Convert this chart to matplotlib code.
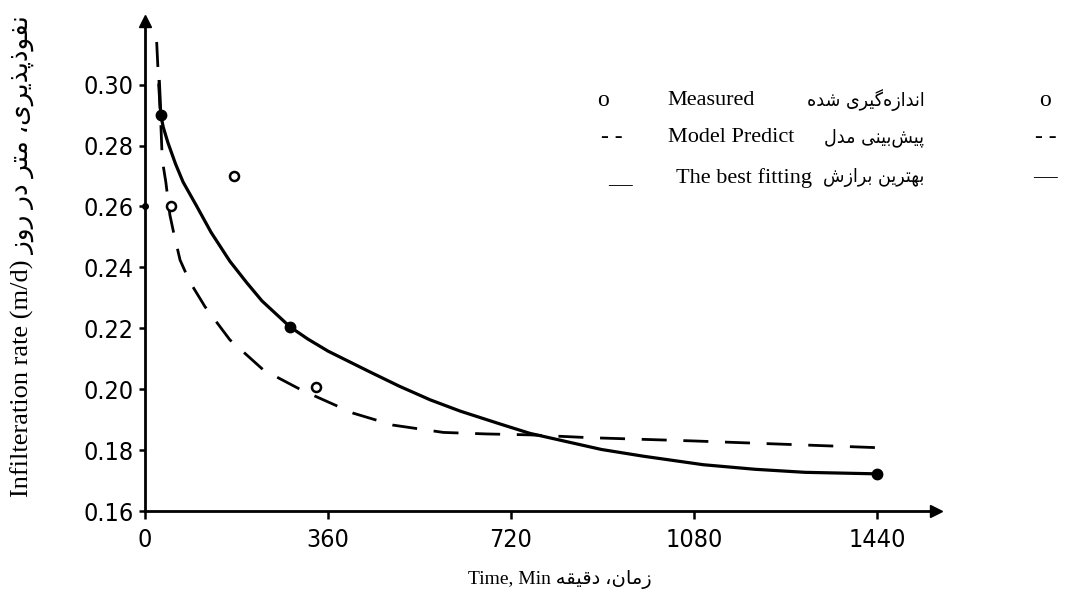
import matplotlib
matplotlib.use("Agg")
import matplotlib.pyplot as plt

# ---------------- data ----------------
best_fit_t = [28, 31, 36, 45, 60, 75, 102, 130, 167, 200, 230, 285, 320, 360, 442, 500, 561, 620,
              698, 757, 898, 980, 1098, 1200, 1298, 1440]
best_fit_y = [0.301, 0.290, 0.286, 0.281, 0.274, 0.268, 0.260, 0.2515, 0.242, 0.235, 0.229, 0.2205,
              0.2165, 0.2125, 0.2057, 0.201, 0.1965, 0.1928, 0.1886, 0.1855, 0.1802, 0.178, 0.1752,
              0.1737, 0.1727, 0.1722]

model_t = [23, 27, 31, 34, 41, 49, 56, 69, 88, 118, 167, 233, 308, 410, 488, 587, 672, 757, 871, 1080, 1440]
model_y = [0.314, 0.300, 0.288, 0.2753, 0.268, 0.2572, 0.2517, 0.2424, 0.2353, 0.2271, 0.2162,
           0.2063, 0.1997, 0.1921, 0.1882, 0.1858, 0.1853, 0.1850, 0.1841, 0.1830, 0.1808]

fitted_pts_t = [31, 285, 1440]
fitted_pts_y = [0.290, 0.2205, 0.1722]

measured_t = [52, 175, 336]
measured_y = [0.260, 0.270, 0.2006]

axis_pt_t = [0]
axis_pt_y = [0.260]

x_ticks = [0, 360, 720, 1080, 1440]
x_ticklabels = ["0", "360", "720", "1080", "1440"]
y_ticks = [0.16, 0.18, 0.20, 0.22, 0.24, 0.26, 0.28, 0.30]
y_ticklabels = ["0.16", "0.18", "0.20", "0.22", "0.24", "0.26", "0.28", "0.30"]

x_label_en = "Time, Min"
x_label_fa = "زمان، دقیقه"
y_label_en = "Infilteration rate (m/d)"
y_label_fa = "نفوذپذیری، متر در روز"

legend_en = ["Measured", "Model Predict", "The best fitting"]
legend_fa = ["اندازه\u200cگیری شده", "پیش\u200cبینی مدل", "بهترین برازش"]
legend_sym = ["o", "- -", "\u2014"]

# ---------------- simple Persian shaping (presentation forms) ----------------
FORMS = {
    'ا': ('\uFE8D', '\uFE8E', None, None),
    'ب': ('\uFE8F', '\uFE90', '\uFE91', '\uFE92'),
    'پ': ('\uFB56', '\uFB57', '\uFB58', '\uFB59'),
    'ت': ('\uFE95', '\uFE96', '\uFE97', '\uFE98'),
    'د': ('\uFEA9', '\uFEAA', None, None),
    'ذ': ('\uFEAB', '\uFEAC', None, None),
    'ر': ('\uFEAD', '\uFEAE', None, None),
    'ز': ('\uFEAF', '\uFEB0', None, None),
    'ش': ('\uFEB5', '\uFEB6', '\uFEB7', '\uFEB8'),
    'ف': ('\uFED1', '\uFED2', '\uFED3', '\uFED4'),
    'ق': ('\uFED5', '\uFED6', '\uFED7', '\uFED8'),
    'گ': ('\uFB92', '\uFB93', '\uFB94', '\uFB95'),
    'ل': ('\uFEDD', '\uFEDE', '\uFEDF', '\uFEE0'),
    'م': ('\uFEE1', '\uFEE2', '\uFEE3', '\uFEE4'),
    'ن': ('\uFEE5', '\uFEE6', '\uFEE7', '\uFEE8'),
    'ه': ('\uFEE9', '\uFEEA', '\uFEEB', '\uFEEC'),
    'و': ('\uFEED', '\uFEEE', None, None),
    'ی': ('\uFBFC', '\uFBFD', '\uFBFE', '\uFBFF'),
}


def rtl(s):
    out = []
    for i, c in enumerate(s):
        if c not in FORMS:
            if c != '\u200c':
                out.append(c)
            continue
        iso, fin, ini, med = FORMS[c]
        prev = s[i - 1] if i > 0 else None
        nxt = s[i + 1] if i + 1 < len(s) else None
        jp = prev in FORMS and FORMS[prev][2] is not None
        jn = ini is not None and nxt in FORMS
        if jp and jn:
            out.append(med)
        elif jp:
            out.append(fin)
        elif jn:
            out.append(ini)
        else:
            out.append(iso)
    return ''.join(reversed(out))


SERIF = ['Liberation Serif', 'DejaVu Sans']
FA = ['DejaVu Sans']

# ---------------- figure ----------------
fig = plt.figure(figsize=(10.70, 5.99), dpi=100)
ax = fig.add_axes([0.1355, 0.1469, 0.7393, 0.8181])
ax.set_xlim(0, 1556)
ax.set_ylim(0.16, 0.3209)

ax.plot(model_t, model_y, color='black', lw=2.0, linestyle=(0, (9, 6)),
        solid_capstyle='butt', dash_capstyle='butt')
ax.plot(best_fit_t, best_fit_y, color='black', lw=2.3, solid_joinstyle='round')
ax.plot(fitted_pts_t, fitted_pts_y, 'o', color='black', ms=7.5)
ax.plot(measured_t, measured_y, 'o', mfc='white', mec='black', ms=6.5, mew=1.8)
ax.plot(axis_pt_t, axis_pt_y, 'o', color='black', ms=4, clip_on=False)

for s in ['top', 'right']:
    ax.spines[s].set_visible(False)
for s in ['left', 'bottom']:
    ax.spines[s].set_linewidth(2.0)

# axis arrows
ax.plot(1, 0, '>', color='black', ms=8, transform=ax.transAxes, clip_on=False)
ax.plot(0, 1, '^', color='black', ms=8, transform=ax.transAxes, clip_on=False)

ax.set_xticks(x_ticks)
ax.set_xticklabels(x_ticklabels)
ax.set_yticks(y_ticks)
ax.set_yticklabels(y_ticklabels)
ax.tick_params(axis='x', direction='out', length=6, width=1.8, pad=6, labelsize=18)
ax.tick_params(axis='y', direction='out', length=4, width=1.8, pad=4, labelsize=18)
for lab in ax.get_xticklabels() + ax.get_yticklabels():
    lab.set_family('DejaVu Sans')
    lab.set_stretch('condensed')

# axis labels
fig.text(0.523, 0.032, x_label_en + " " + rtl(x_label_fa), ha='center', va='center',
         fontsize=14, family=SERIF)
fig.text(0.021, 0.572, y_label_en + " " + rtl(y_label_fa), ha='center', va='center',
         rotation=90, fontsize=19, family=SERIF)

# legend (text block as in the reference)
row_y = [0.833, 0.770, 0.703]
sym_left_x = [0.564, 0.572, 0.579]
en_x = [0.624, 0.624, 0.632]
for i in range(3):
    y = row_y[i]
    fig.text(sym_left_x[i], y - (0.012 if i == 2 else 0), legend_sym[i], ha='center',
             va='center', fontsize=17, family=SERIF)
    fig.text(en_x[i], y, legend_en[i], ha='left', va='center', fontsize=16, family=SERIF)
    t = fig.text(0.864, y, rtl(legend_fa[i]), ha='right', va='center', fontsize=14, family=FA)
    t.set_stretch('condensed')
    fig.text(0.977, y, legend_sym[i], ha='center', va='center', fontsize=17, family=SERIF)

fig.savefig('out.png', dpi=100)
